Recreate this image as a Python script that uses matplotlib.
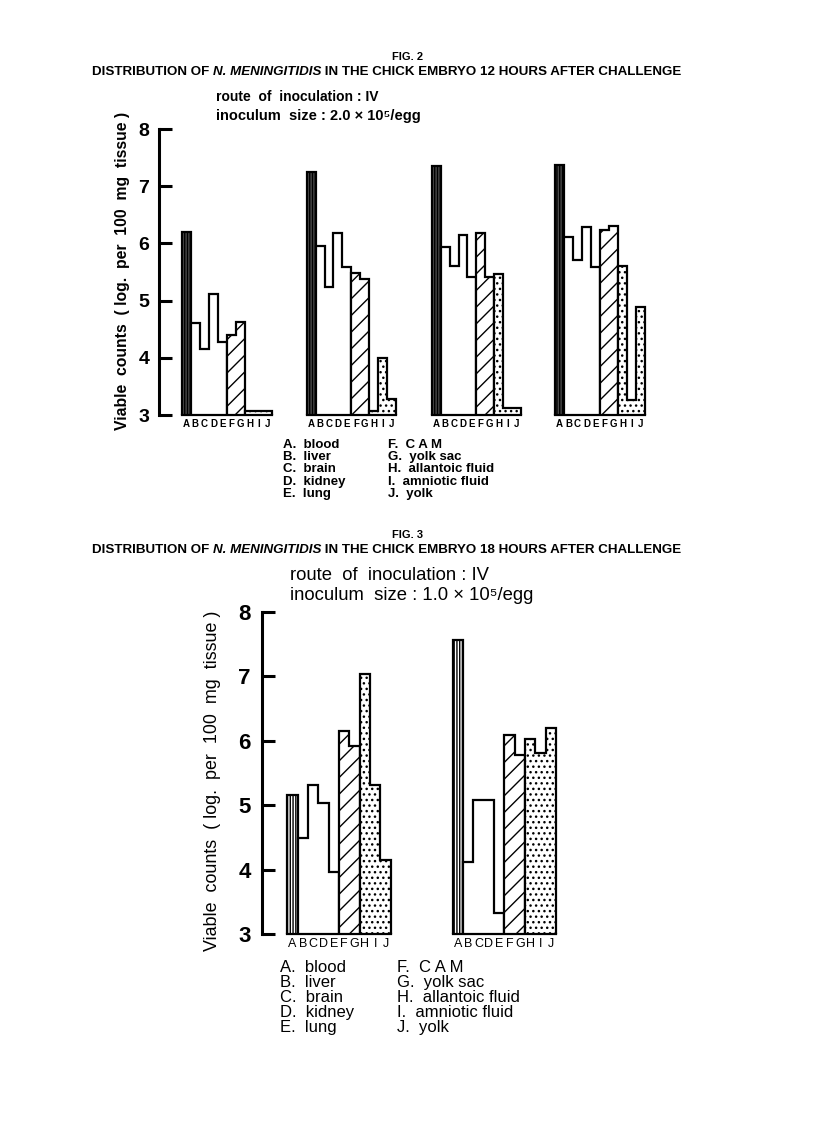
import numpy as np
import matplotlib
matplotlib.use("Agg")
import matplotlib.pyplot as plt

plt.rcParams['font.family'] = ['Liberation Sans', 'DejaVu Sans']
plt.rcParams['hatch.linewidth'] = 1.0

# organs (bar letters) and legend names
letters = ['A', 'B', 'C', 'D', 'E', 'F', 'G', 'H', 'I', 'J']
organs = ['blood', 'liver', 'brain', 'kidney', 'lung',
          'C A M', 'yolk sac', 'allantoic fluid', 'amniotic fluid', 'yolk']

# FIG. 2 - 12 hours, four eggs (log viable counts per 100 mg)
fig2_egg1 = [6.2, 4.6, 4.15, 5.12, 4.28, 4.4, 4.63, 3.07, 3.07, 3.07]
fig2_egg2 = [7.25, 5.95, 5.23, 6.18, 5.58, 5.49, 5.38, 3.07, 4.0, 3.28]
fig2_egg3 = [7.35, 5.94, 5.6, 6.15, 5.41, 6.18, 5.41, 5.46, 3.13, 3.13]
fig2_egg4 = [7.37, 6.12, 5.71, 6.28, 5.59, 6.23, 6.3, 5.61, 3.26, 4.88]

# FIG. 3 - 18 hours, two eggs
fig3_egg1 = [5.16, 4.5, 5.31, 5.04, 3.97, 6.15, 5.92, 7.03, 5.31, 4.15]
fig3_egg2 = [7.56, 4.12, 5.08, 5.08, 3.33, 6.09, 5.78, 6.03, 5.81, 6.19]

W, H = 816, 1122
fig = plt.figure(figsize=(W / 100, H / 100), dpi=100)


def box(x0, x1, ytop, ybot):
    return [x0 / W, 1 - ybot / H, (x1 - x0) / W, (ybot - ytop) / H]


def draw_panel(rect, vals, left, first, blood_face, lab_size, lab_weight,
               tick_size, tick_pad):
    # groups of tissues: blood / organs / membranes / fluids
    groups = [(0, 1, blood_face, '||||||'), (1, 5, 'white', None),
              (5, 7, 'white', '//'), (7, 10, 'white', '...')]
    ax = fig.add_axes(rect)
    edges = np.arange(len(vals) + 1) - 0.5
    for s, e, face, hatch in groups:
        ax.stairs(vals[s:e], edges[s:e + 1], baseline=3, fill=True,
                  facecolor=face, hatch=hatch, edgecolor='black',
                  linewidth=1.6, clip_on=False)
    ax.set_xlim(left, 9.5)
    ax.set_ylim(3, 8)
    ax.set_xticks(range(10))
    ax.set_xticklabels(letters, fontsize=lab_size, fontweight=lab_weight)
    ax.tick_params(axis='x', length=0, pad=3)
    ax.spines['top'].set_visible(False)
    ax.spines['right'].set_visible(False)
    ax.spines['bottom'].set_bounds(-0.5, 9.5)
    ax.spines['bottom'].set_linewidth(1.6)
    if first:
        ax.spines['left'].set_linewidth(2.2)
        ax.set_yticks([3, 4, 5, 6, 7, 8])
        ax.set_yticklabels(['3', '4', '5', '6', '7', '8'], fontsize=tick_size,
                           fontweight='bold')
        ax.tick_params(axis='y', direction='in', length=9, width=2.2, pad=tick_pad)
    else:
        ax.spines['left'].set_visible(False)
        ax.set_yticks([])
    return ax


def caption(y, hours):
    a = fig.text(92 / W, 1 - y / H, 'DISTRIBUTION OF ', ha='left', va='center',
                 fontsize=9.6, fontweight='bold')
    b = fig.add_artist(plt.Annotation('N. MENINGITIDIS', xy=(1, 0), xycoords=a,
                                      va='bottom', fontsize=9.6, fontweight='bold',
                                      fontstyle='italic'))
    fig.add_artist(plt.Annotation(f' IN THE CHICK EMBRYO {hours} HOURS AFTER CHALLENGE',
                                  xy=(1, 0), xycoords=b, va='bottom', fontsize=9.6,
                                  fontweight='bold'))


# ---------------- FIG. 2 ----------------
fig.text(408 / W, 1 - 57 / H, 'FIG. 2', ha='center', va='center',
         fontsize=8, fontweight='bold')
caption(72, 12)
fig.text(216 / W, 1 - 97 / H, 'route  of  inoculation : IV', ha='left',
         va='center', fontsize=10, fontweight='bold')
fig.text(216 / W, 1 - 116 / H, 'inoculum  size : 2.0 \u00d7 10\u2075/egg',
         ha='left', va='center', fontsize=10.5, fontweight='bold')
fig.text(122 / W, 1 - 271 / H, 'Viable  counts  ( log.  per  100  mg  tissue )',
         rotation=90, ha='center', va='center', fontsize=11.3, fontweight='bold')

y8, y3 = 129, 415
draw_panel(box(159, 272.3, y8, y3), fig2_egg1, -3.0, True, '#4a4a4a', 7, 'bold', 14, 7)
draw_panel(box(306.7, 396, y8, y3), fig2_egg2, -0.5, False, '#4a4a4a', 7, 'bold', 14, 7)
draw_panel(box(432, 520.7, y8, y3), fig2_egg3, -0.5, False, '#4a4a4a', 7, 'bold', 14, 7)
draw_panel(box(555, 645, y8, y3), fig2_egg4, -0.5, False, '#4a4a4a', 7, 'bold', 14, 7)

for i, (let, org) in enumerate(zip(letters, organs)):
    col, row = divmod(i, 5)
    x = [283, 388][col]
    fig.text(x / W, 1 - (445 + row * 12.2) / H, f'{let}.  {org}', ha='left',
             va='center', fontsize=9.5, fontweight='bold')

# ---------------- FIG. 3 ----------------
fig.text(408 / W, 1 - 535 / H, 'FIG. 3', ha='center', va='center',
         fontsize=8, fontweight='bold')
caption(550, 18)
fig.text(290 / W, 1 - 575 / H, 'route  of  inoculation : IV', ha='left',
         va='center', fontsize=13.3)
fig.text(290 / W, 1 - 596 / H, 'inoculum  size : 1.0 \u00d7 10\u2075/egg',
         ha='left', va='center', fontsize=13.3)
fig.text(212 / W, 1 - 781 / H, 'Viable  counts  ( log.  per  100  mg  tissue )',
         rotation=90, ha='center', va='center', fontsize=12.9)

z8, z3 = 611.7, 934.3
draw_panel(box(262, 390.7, z8, z3), fig3_egg1, -2.95, True, 'white', 9, 'normal', 16, 8)
draw_panel(box(452.7, 556, z8, z3), fig3_egg2, -0.5, False, 'white', 9, 'normal', 16, 8)

for i, (let, org) in enumerate(zip(letters, organs)):
    col, row = divmod(i, 5)
    x = [280, 397][col]
    fig.text(x / W, 1 - (967 + row * 15.2) / H, f'{let}.  {org}', ha='left',
             va='center', fontsize=12)

fig.savefig('out.png', dpi=100, facecolor='white')
